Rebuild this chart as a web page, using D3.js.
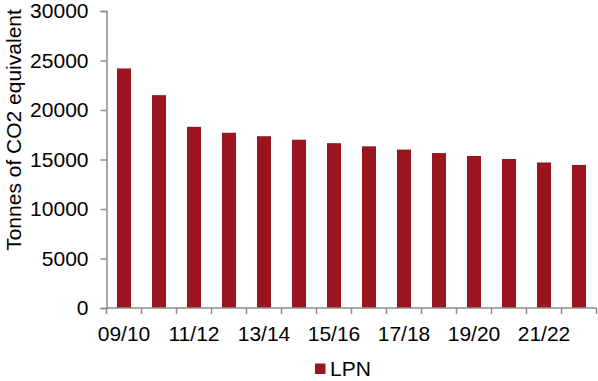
<!DOCTYPE html>
<html>
<head>
<meta charset="utf-8">
<script src="https://cdn.jsdelivr.net/npm/d3@7/dist/d3.min.js"></script>
<style>
  html, body { margin: 0; padding: 0; background: #fff; }
  svg { display: block; font-family: "Liberation Sans", Arial, sans-serif; }
</style>
</head>
<body>
<svg id="chart" width="598" height="381"></svg>
<script>
// Emissions by financial year
const years = ["09/10", "10/11", "11/12", "12/13", "13/14", "14/15", "15/16",
               "16/17", "17/18", "18/19", "19/20", "20/21", "21/22", "22/23"];
const emissions = [24200, 21500, 18300, 17700, 17350, 17000, 16650,
                   16330, 16000, 15650, 15350, 15050, 14700, 14450];
const yTicks = [0, 5000, 10000, 15000, 20000, 25000, 30000];
const seriesName = "LPN";
const yTitle = "Tonnes of CO2 equivalent";

const svg = d3.select("#chart");
const margin = { left: 106.5, right: 1.5, top: 11, bottom: 73 };
const W = 598, H = 381;
const axisColor = "#8c8c8c";
const barColor = "#9a1520";
const fontSize = 21;

const x = d3.scaleBand()
  .domain(years)
  .range([margin.left, W - margin.right])
  .paddingInner(0.6)
  .paddingOuter(0.3);

const y = d3.scaleLinear()
  .domain([0, 30000])
  .range([H - margin.bottom, margin.top]);

// Bars
svg.append("g")
  .selectAll("rect")
  .data(years.map((yr, i) => ({ yr, v: emissions[i] })))
  .join("rect")
  .attr("x", d => x(d.yr))
  .attr("width", x.bandwidth())
  .attr("y", d => y(d.v))
  .attr("height", d => y(0) - y(d.v))
  .attr("fill", barColor);

// Y axis
const yAxis = svg.append("g")
  .attr("transform", `translate(${margin.left},0)`)
  .call(d3.axisLeft(y).tickValues(yTicks).tickSize(6).tickPadding(12).tickFormat(d3.format("d")));
yAxis.select(".domain").attr("stroke", axisColor).attr("stroke-width", 1.5);
yAxis.selectAll(".tick line").attr("stroke", axisColor).attr("stroke-width", 1.5);
yAxis.selectAll(".tick text")
  .attr("fill", "#000")
  .style("font-size", fontSize + "px")
  .style("font-family", "'Liberation Sans', Arial, sans-serif");

// X axis: ticks on category boundaries, labels on every other year
const step = x.step();
const x0 = margin.left;
const boundaries = d3.range(years.length + 1).map(i => x0 + i * step);
const xg = svg.append("g");
xg.append("line")
  .attr("x1", x0).attr("x2", W - margin.right)
  .attr("y1", y(0)).attr("y2", y(0))
  .attr("stroke", axisColor).attr("stroke-width", 1.5);
xg.selectAll("line.tick")
  .data(boundaries)
  .join("line")
  .attr("class", "tick")
  .attr("x1", d => d).attr("x2", d => d)
  .attr("y1", y(0)).attr("y2", y(0) + 6)
  .attr("stroke", axisColor).attr("stroke-width", 1.5);
xg.selectAll("text")
  .data(years.filter((d, i) => i % 2 === 0))
  .join("text")
  .attr("x", d => x(d) + x.bandwidth() / 2)
  .attr("y", y(0) + 33)
  .attr("text-anchor", "middle")
  .style("font-size", fontSize + "px")
  .text(d => d);

// Y axis title
svg.append("text")
  .attr("transform", `translate(21,130) rotate(-90)`)
  .attr("text-anchor", "middle")
  .style("font-size", fontSize + "px")
  .text(yTitle);

// Legend
const lg = svg.append("g");
lg.append("rect")
  .attr("x", 315).attr("y", 363.5)
  .attr("width", 10.5).attr("height", 10.5)
  .attr("fill", barColor);
lg.append("text")
  .attr("x", 330).attr("y", 376)
  .style("font-size", fontSize + "px")
  .text(seriesName);
</script>
</body>
</html>
